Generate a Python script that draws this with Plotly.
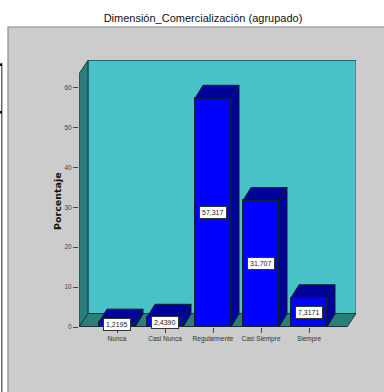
import plotly.graph_objects as go

# Survey results: share of responses per category
categories = ["Nunca", "Casi Nunca", "Regularmente", "Casi Siempre", "Siempre"]
percentages = [1.2195, 2.4390, 57.317, 31.707, 7.3171]
value_labels = ["1,2195", "2,4390", "57,317", "31,707", "7,3171"]
y_ticks = [0, 10, 20, 30, 40, 50, 60]

W, H = 384, 392
LEFT, RIGHT, TOP, BOTTOM = 79, 356, 60, 327
PX_PER_CAT = 48.0
PX_PER_PCT = 3.99
CENTER0 = 117.0

BAR_W = 36 / PX_PER_CAT
BAR_DX = 8 / PX_PER_CAT
BAR_DY = 13 / PX_PER_PCT
WALL_DX = 9 / PX_PER_CAT
WALL_DY = 13.5 / PX_PER_PCT

x_lo = (LEFT - CENTER0) / PX_PER_CAT
x_hi = (RIGHT - CENTER0) / PX_PER_CAT
y_hi = (BOTTOM - TOP) / PX_PER_PCT
floor_right = (347 - CENTER0) / PX_PER_CAT

WALL = "#48C2C6"
WALL_DARK = "#2E7D7D"
PANEL = "#CCCCCC"
BAR = "#0000FF"
BAR_DARK = "#00009A"
EDGE = "#10202A"
FONT = "Liberation Sans"
positions = list(range(len(categories)))


def px_x(px):
    return (px - LEFT) / (RIGHT - LEFT)


def px_y(px):
    return (BOTTOM - px) / (BOTTOM - TOP)


def polygon(xs, ys, fill, edge=EDGE, width=1):
    path = "M " + " L ".join(f"{a},{b}" for a, b in zip(xs, ys)) + " Z"
    return dict(type="path", path=path, xref="x", yref="y", fillcolor=fill,
                line=dict(color=edge, width=width), layer="below")


def page_rect(x0, y0, x1, y1, fill, edge=None, width=0):
    return dict(type="rect", xref="paper", yref="paper", x0=px_x(x0), x1=px_x(x1),
                y0=px_y(y1), y1=px_y(y0), fillcolor=fill, layer="below",
                line=dict(color=edge or fill, width=width))


wall_top = y_hi - 0.1
shapes = [
    # surrounding panel and the frame stub at the far left
    page_rect(8, 27, 390, 396, PANEL, "#8A8A8A", 1.2),
    page_rect(1, 63, 2.5, 396, "#6A6A6A"),
    page_rect(0, 63.5, 2, 66, "#111111"),
    page_rect(0, 111, 2, 113.5, "#111111"),
    # back wall, side wall and floor of the 3D box
    polygon([x_lo + WALL_DX, floor_right + WALL_DX, floor_right + WALL_DX, x_lo + WALL_DX],
            [WALL_DY, WALL_DY, wall_top, wall_top], WALL, "#1E5A60"),
    polygon([x_lo, x_lo + WALL_DX, x_lo + WALL_DX, x_lo],
            [0, WALL_DY, wall_top, wall_top - WALL_DY], WALL_DARK, "#14383C"),
    polygon([x_lo, floor_right, floor_right + WALL_DX, x_lo + WALL_DX],
            [0, 0, WALL_DY, WALL_DY], WALL_DARK, "#14383C"),
]

fig = go.Figure()

fig.add_trace(go.Bar(x=positions, y=percentages, width=BAR_W,
                     marker=dict(color=BAR, line=dict(color=EDGE, width=1)),
                     hoverinfo="skip", showlegend=False))

# Side and top faces give each bar its depth
for pos, value in zip(positions, percentages):
    left, right = pos - BAR_W / 2, pos + BAR_W / 2
    fig.add_trace(go.Scatter(
        x=[right, right + BAR_DX, right + BAR_DX, right, right],
        y=[0, BAR_DY, value + BAR_DY, value, 0],
        mode="lines", fill="toself", fillcolor=BAR_DARK,
        line=dict(color=EDGE, width=1), hoverinfo="skip", showlegend=False))
    fig.add_trace(go.Scatter(
        x=[left, right, right + BAR_DX, left + BAR_DX, left],
        y=[value, value, value + BAR_DY, value + BAR_DY, value],
        mode="lines", fill="toself", fillcolor=BAR_DARK,
        line=dict(color=EDGE, width=1), hoverinfo="skip", showlegend=False))

annotations = [
    dict(x=pos, y=value / 2, xref="x", yref="y", text=label, showarrow=False,
         font=dict(family=FONT, size=7, color="#222222"),
         bgcolor="#FFFFFF", bordercolor="#333333", borderwidth=1, borderpad=2)
    for pos, value, label in zip(positions, percentages, value_labels)
]
annotations.append(
    dict(x=px_x(57), y=px_y(201), xref="paper", yref="paper", text="<b>Porcentaje</b>",
         xanchor="center", yanchor="middle", textangle=-90, showarrow=False,
         font=dict(family="DejaVu Sans", size=9.5, color="#111111")))

fig.update_layout(
    width=W, height=H, autosize=False,
    margin=dict(l=LEFT, r=W - RIGHT, t=TOP, b=H - BOTTOM),
    paper_bgcolor="#FFFFFF", plot_bgcolor="rgba(0,0,0,0)",
    shapes=shapes, annotations=annotations, bargap=0,
    title=dict(text="Dimensión_Comercialización (agrupado)",
               x=203 / W, y=1 - 18 / H, xref="container", yref="container",
               xanchor="center", yanchor="middle",
               font=dict(family=FONT, size=11, color="#111111")),
    xaxis=dict(range=[x_lo, x_hi], tickmode="array", tickvals=positions,
               ticktext=categories, ticks="outside", ticklen=5, tickwidth=1,
               tickcolor="#444444", showgrid=False, zeroline=False,
               showline=False, tickangle=0,
               tickfont=dict(family=FONT, size=6.5, color="#333333")),
    yaxis=dict(range=[0, y_hi], tickmode="array", tickvals=y_ticks,
               ticks="outside", ticklen=5, tickwidth=1, tickcolor="#444444",
               showgrid=False, zeroline=False, showline=False,
               tickfont=dict(family=FONT, size=6.5, color="#444444")),
)

# Baseline along the front edge of the floor
fig.add_shape(type="line", xref="x", yref="y", x0=x_lo - 5 / PX_PER_CAT, x1=floor_right,
              y0=0, y1=0, line=dict(color="#222222", width=1.5), layer="above")

fig.write_html("out.html", config=dict(displayModeBar=False))
